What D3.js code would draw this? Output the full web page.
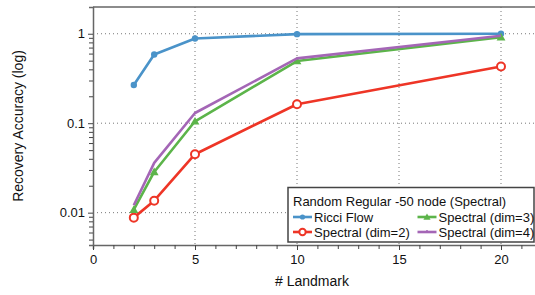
<!DOCTYPE html>
<html>
<head>
<meta charset="utf-8">
<script src="https://cdn.jsdelivr.net/npm/d3@7"></script>
<style>
  body { margin: 0; background: #fff; }
  svg { display: block; font-family: "Liberation Sans", Arial, sans-serif; }
</style>
</head>
<body>
<script>
"use strict";

// landmarks and recovery accuracy per method
var landmarks = [2, 3, 5, 10, 20];
var ricciFlow = [0.267, 0.585, 0.885, 0.99, 1.0];
var spectral2 = [0.0088, 0.0136, 0.045, 0.163, 0.43];
var spectral3 = [0.0108, 0.0285, 0.105, 0.495, 0.915];
var spectral4 = [0.0121, 0.036, 0.13, 0.53, 0.95];

var xTicks = [0, 5, 10, 15, 20];
var yTicks = [0.01, 0.1, 1];
var legendTitle = "Random Regular -50 node (Spectral)";

var series = [
  {name: "Ricci Flow", values: ricciFlow, color: "#4a93c9", marker: "dot"},
  {name: "Spectral (dim=2)", values: spectral2, color: "#ee3526", marker: "ring"},
  {name: "Spectral (dim=3)", values: spectral3, color: "#5cb44a", marker: "tri"},
  {name: "Spectral (dim=4)", values: spectral4, color: "#a466b6", marker: "none"}
];

var W = 535, H = 295;
var plot = {left: 93, top: 7, bottom: 245};

var svg = d3.select("body").append("svg")
    .attr("width", W)
    .attr("height", H);

var xScale = d3.scaleLinear()
    .domain([0, 22])
    .range([plot.left, plot.left + 22 * 20.4]);

var yScale = d3.scaleLog()
    .domain([0.00435, 1.99])
    .range([plot.bottom, plot.top]);

// dotted gridlines
svg.append("g").selectAll("line")
    .data(xTicks.filter(function(d) { return d > 0; }))
  .enter().append("line")
    .attr("x1", function(d) { return xScale(d); })
    .attr("x2", function(d) { return xScale(d); })
    .attr("y1", plot.top)
    .attr("y2", plot.bottom)
    .attr("stroke", "#777")
    .attr("stroke-width", 1)
    .attr("stroke-dasharray", "1,3");

svg.append("g").selectAll("line")
    .data(yTicks)
  .enter().append("line")
    .attr("x1", plot.left)
    .attr("x2", W)
    .attr("y1", function(d) { return yScale(d); })
    .attr("y2", function(d) { return yScale(d); })
    .attr("stroke", "#777")
    .attr("stroke-width", 1)
    .attr("stroke-dasharray", "1,3");

// axes
var xMinor = d3.range(0, 23, 1);
var xAxis = d3.axisBottom(xScale)
    .tickValues(xMinor)
    .tickSize(4)
    .tickFormat(function(d) { return xTicks.indexOf(d) >= 0 ? d : ""; });

var gX = svg.append("g")
    .attr("transform", "translate(0," + plot.bottom + ")")
    .call(xAxis);

var yMinor = [];
[0.001, 0.01, 0.1, 1].forEach(function(dec) {
  for (var k = 1; k < 10; k++) {
    var v = dec * k;
    if (v >= 0.00435 && v <= 1.99) yMinor.push(v);
  }
});
var yAxis = d3.axisLeft(yScale)
    .tickValues(yMinor)
    .tickSize(4)
    .tickFormat(function(d) {
      var i = yTicks.findIndex(function(t) { return Math.abs(t - d) < d * 1e-6; });
      return i >= 0 ? ["0.01", "0.1", "1"][i] : "";
    });

var gY = svg.append("g")
    .attr("transform", "translate(" + plot.left + ",0)")
    .call(yAxis);

[gX, gY].forEach(function(g) {
  g.select(".domain").attr("stroke", "#666").attr("stroke-width", 1.5);
  g.selectAll(".tick line").attr("stroke", "#444").attr("stroke-width", 1);
  g.selectAll(".tick text").attr("font-size", 13).attr("fill", "#111")
    .attr("font-family", "Liberation Sans, Arial, sans-serif");
});
gX.selectAll(".tick text").attr("dy", "0.95em");
gY.selectAll(".tick text").attr("dx", "-1px");
gX.selectAll(".tick").filter(function(d) { return xTicks.indexOf(d) >= 0; })
  .select("line").attr("y2", 5);
gY.selectAll(".tick").filter(function(d) {
  return yTicks.some(function(t) { return Math.abs(t - d) < d * 1e-6; });
}).select("line").attr("x2", -5);

// top frame
svg.append("line")
    .attr("x1", plot.left).attr("x2", W)
    .attr("y1", plot.top).attr("y2", plot.top)
    .attr("stroke", "#666").attr("stroke-width", 1.5);

// axis titles
svg.append("text")
    .attr("transform", "translate(23," + ((plot.top + plot.bottom) / 2) + ") rotate(-90)")
    .attr("text-anchor", "middle")
    .attr("font-size", 14)
    .attr("fill", "#111")
    .text("Recovery Accuracy (log)");

svg.append("text")
    .attr("x", 312)
    .attr("y", 286)
    .attr("text-anchor", "middle")
    .attr("font-size", 14)
    .attr("fill", "#111")
    .text("# Landmark");

// lines
var line = d3.line()
    .x(function(d) { return xScale(d.x); })
    .y(function(d) { return yScale(d.y); });

function drawMarker(g, s, x, y, r) {
  if (s.marker === "dot") {
    g.append("circle").attr("cx", x).attr("cy", y).attr("r", r)
      .attr("fill", s.color);
  } else if (s.marker === "ring") {
    g.append("circle").attr("cx", x).attr("cy", y).attr("r", r + 0.8)
      .attr("fill", "#fff").attr("stroke", s.color).attr("stroke-width", 2);
  } else if (s.marker === "tri") {
    var h = r * 2.3;
    g.append("path")
      .attr("d", "M" + x + "," + (y - h * 0.6) + "L" + (x + h * 0.6) + "," + (y + h * 0.45) +
                 "L" + (x - h * 0.6) + "," + (y + h * 0.45) + "Z")
      .attr("fill", s.color);
  }
}

var gLines = svg.append("g");
series.forEach(function(s) {
  var pts = landmarks.map(function(x, i) { return {x: x, y: s.values[i]}; });
  var g = gLines.append("g");
  g.append("path")
    .datum(pts)
    .attr("fill", "none")
    .attr("stroke", s.color)
    .attr("stroke-width", 2.6)
    .attr("stroke-linejoin", "round")
    .attr("d", line);
  pts.forEach(function(p) {
    drawMarker(g, s, xScale(p.x), yScale(p.y), 3.2);
  });
});

// legend
var lg = svg.append("g");
lg.append("rect")
    .attr("x", 288).attr("y", 187.5)
    .attr("width", 246).attr("height", 54.5)
    .attr("fill", "#fff")
    .attr("stroke", "#444")
    .attr("stroke-width", 1.5);

lg.append("text")
    .attr("x", 293).attr("y", 206)
    .attr("font-size", 13)
    .attr("fill", "#111")
    .text(legendTitle);

series.forEach(function(s, i) {
  var col = Math.floor(i / 2), row = i % 2;
  var x0 = col === 0 ? 293 : 417.5;
  var y0 = 217 + row * 15;
  lg.append("line")
    .attr("x1", x0).attr("x2", x0 + 19)
    .attr("y1", y0).attr("y2", y0)
    .attr("stroke", s.color).attr("stroke-width", 2.6);
  if (s.marker === "none") {
    lg.append("line")
      .attr("x1", x0 + 9.5).attr("x2", x0 + 9.5)
      .attr("y1", y0 - 2).attr("y2", y0 + 1)
      .attr("stroke", s.color).attr("stroke-width", 1.5);
  } else {
    drawMarker(lg, s, x0 + 9.5, y0, s.marker === "ring" ? 2.4 : 2.6);
  }
  lg.append("text")
    .attr("x", x0 + 21).attr("y", y0 + 4.5)
    .attr("font-size", 13)
    .attr("fill", "#111")
    .text(s.name);
});
</script>
</body>
</html>
